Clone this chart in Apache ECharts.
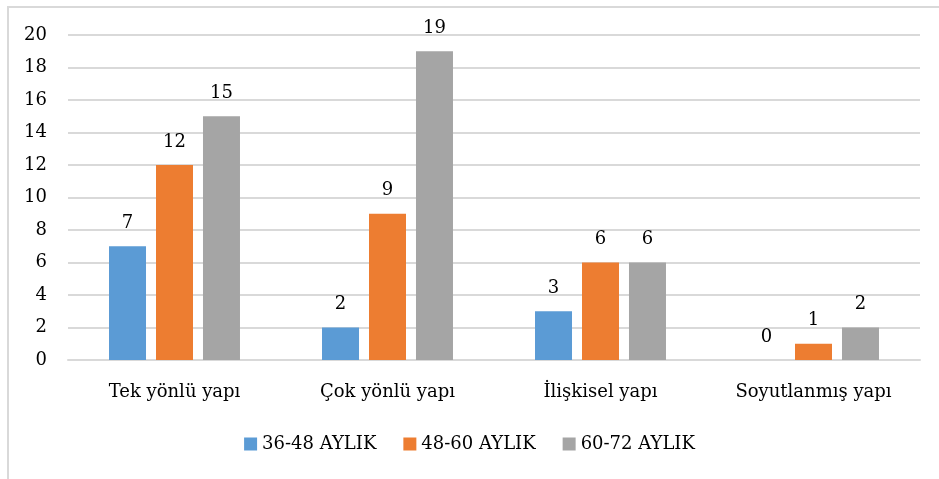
<!DOCTYPE html>
<html>
<head>
<meta charset="utf-8">
<script src="https://cdn.jsdelivr.net/npm/echarts@6/dist/echarts.min.js"></script>
<style>
  html, body { margin: 0; padding: 0; background: #fff; }
  #frame { position: absolute; left: 7px; top: 6px; width: 940px; height: 480px; border: 2px solid #d9d9d9; box-sizing: border-box; }
  #chart { position: absolute; left: 0; top: 0; width: 939px; height: 479px; }
</style>
</head>
<body>
<div id="frame"></div>
<div id="chart"></div>
<script>
const categories = ['Tek yönlü yapı', 'Çok yönlü yapı', 'İlişkisel yapı', 'Soyutlanmış yapı'];
const seriesNames = ['36-48 AYLIK', '48-60 AYLIK', '60-72 AYLIK'];
const values36to48 = [7, 2, 3, 0];
const values48to60 = [12, 9, 6, 1];
const values60to72 = [15, 19, 6, 2];
const yTicks = { min: 0, max: 20, interval: 2 };

const colors = ['#5B9BD5', '#ED7D31', '#A5A5A5'];
const fontFamily = '"DejaVu Serif", "Liberation Serif", serif';

const chart = echarts.init(document.getElementById('chart'), null, { renderer: 'canvas' });

function barSeries(name, data, color) {
  return {
    name: name,
    type: 'bar',
    data: data,
    barWidth: 37,
    barGap: '27%',
    itemStyle: { color: color },
    label: {
      show: true,
      position: 'top',
      distance: 14,
      color: '#000',
      fontFamily: fontFamily,
      fontSize: 18
    }
  };
}

chart.setOption({
  animation: false,
  color: colors,
  grid: { left: 68, right: 19, top: 35, bottom: 119, containLabel: false },
  legend: {
    bottom: 21,
    left: 'center',
    itemWidth: 13,
    itemHeight: 13,
    itemGap: 27,
    icon: 'rect',
    textStyle: { fontFamily: fontFamily, fontSize: 18, color: '#000' },
    data: seriesNames
  },
  xAxis: {
    type: 'category',
    data: categories,
    axisLine: { show: true, lineStyle: { color: '#d9d9d9', width: 2 } },
    axisTick: { show: false },
    axisLabel: { fontFamily: fontFamily, fontSize: 18, color: '#000', margin: 23 }
  },
  yAxis: {
    type: 'value',
    min: yTicks.min,
    max: yTicks.max,
    interval: yTicks.interval,
    axisLine: { show: false },
    axisTick: { show: false },
    axisLabel: { fontFamily: fontFamily, fontSize: 18, color: '#000', margin: 21, align: 'right' },
    splitLine: { lineStyle: { color: '#d9d9d9', width: 2 } }
  },
  series: [
    barSeries(seriesNames[0], values36to48, colors[0]),
    barSeries(seriesNames[1], values48to60, colors[1]),
    barSeries(seriesNames[2], values60to72, colors[2])
  ]
});
</script>
</body>
</html>
